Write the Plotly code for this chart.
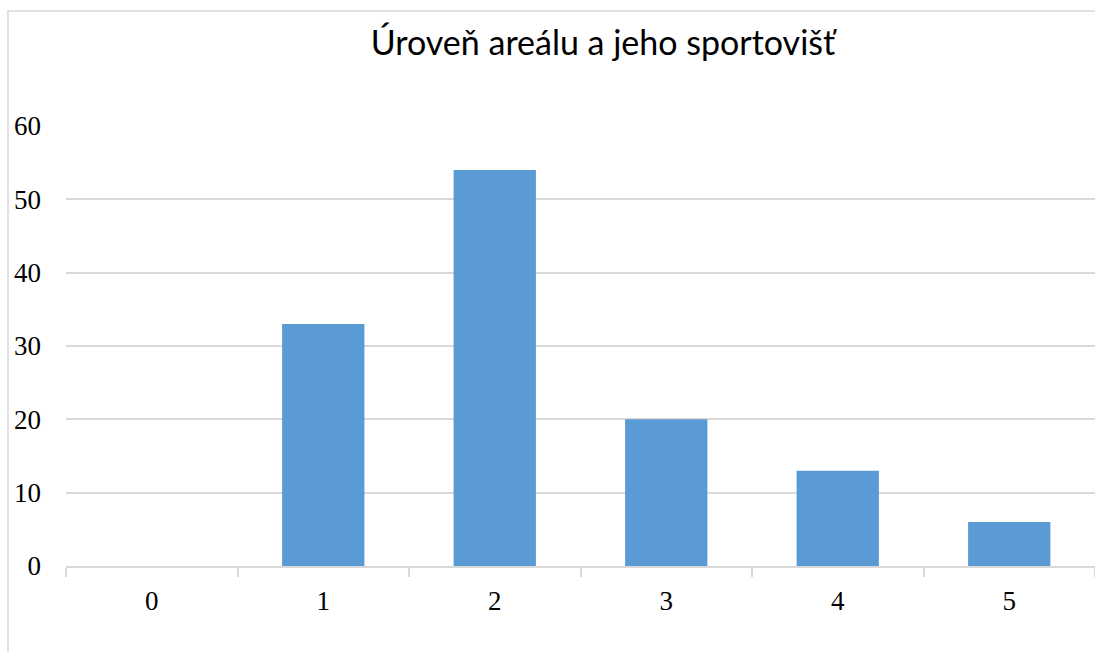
import plotly.graph_objects as go

# Data
categories = ["0", "1", "2", "3", "4", "5"]
counts = [0, 33, 54, 20, 13, 6]
y_ticks = [0, 10, 20, 30, 40, 50, 60]

W, H = 1095, 652
L, R, T, B = 66, 0, 126, 86
plot_w = W - L - R
plot_h = H - T - B


def px_x(px):
    return (px - L) / plot_w


def px_y(py):
    return (H - B - py) / plot_h


fig = go.Figure()
fig.add_trace(go.Bar(
    x=categories,
    y=counts,
    marker=dict(color="#5B9BD5", line=dict(width=0)),
    hoverinfo="x+y",
))

grid = "#D9D9D9"
serif = "Liberation Serif, Times New Roman, serif"
fig.update_layout(
    width=W, height=H,
    margin=dict(l=L, r=R, t=T, b=B),
    paper_bgcolor="white",
    plot_bgcolor="white",
    bargap=0.52,
    showlegend=False,
    title=dict(
        text="Úroveň areálu a jeho sportovišť",
        x=603 / W, xanchor="center",
        y=1 - 43 / H, yanchor="middle",
        font=dict(family="Lato, Open Sans, sans-serif", size=34, color="black"),
    ),
    xaxis=dict(
        type="category",
        showgrid=False,
        showline=True, linecolor=grid, linewidth=1.5,
        ticks="outside", tickson="boundaries", ticklen=9, tickcolor=grid, tickwidth=1.5,
        tickfont=dict(family=serif, size=27, color="black"),
        ticklabelstandoff=10,
    ),
    yaxis=dict(
        range=[0, 60],
        tickvals=y_ticks,
        showgrid=True, gridcolor=grid, gridwidth=1.5,
        zeroline=False, showline=False,
        ticks="",
        tickfont=dict(family=serif, size=27, color="black"),
        ticklabelstandoff=24,
    ),
    shapes=[dict(
        type="rect", xref="paper", yref="paper",
        x0=px_x(8), x1=px_x(W + 10), y0=px_y(H + 10), y1=px_y(11),
        line=dict(color=grid, width=1.5), fillcolor="rgba(0,0,0,0)", layer="below",
    )],
)

fig.write_html(
    "out.html",
    config={"displayModeBar": False},
    post_script="document.body.style.margin='0';document.body.style.overflow='hidden';",
)
